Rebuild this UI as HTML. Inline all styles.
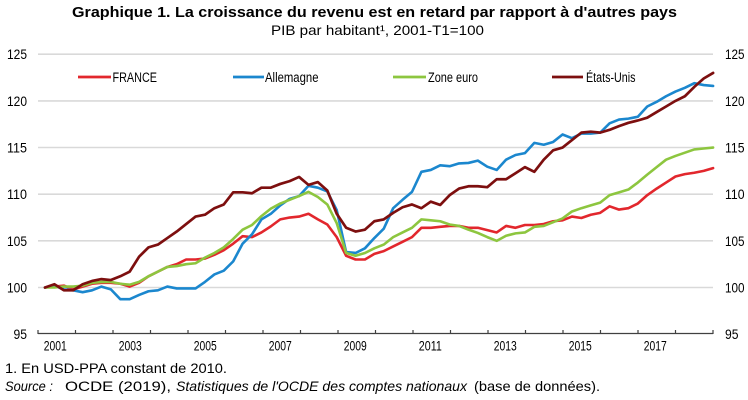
<!DOCTYPE html>
<html>
<head>
<meta charset="utf-8">
<style>
  html,body{margin:0;padding:0;background:#fff;}
  svg{display:block;}
  text{font-family:"Liberation Sans",Arial,sans-serif;fill:#000;}
  .n{font-family:"Liberation Sans Narrow","Liberation Sans",Arial,sans-serif;}
</style>
</head>
<body>
<svg width="748" height="400" viewBox="0 0 748 400" xmlns="http://www.w3.org/2000/svg">
  <rect width="748" height="400" fill="#fff"/>

  <!-- Title -->
  <text x="72" y="17" font-size="14.5" font-weight="bold" textLength="605" lengthAdjust="spacingAndGlyphs">Graphique 1. La croissance du revenu est en retard par rapport à d'autres pays</text>
  <text x="271" y="35" font-size="14" textLength="213" lengthAdjust="spacingAndGlyphs">PIB par habitant¹, 2001-T1=100</text>

  <!-- Gridlines -->
  <g stroke="#d9d9d9" stroke-width="1.6">
    <line x1="38" y1="54.2" x2="713" y2="54.2"/>
    <line x1="38" y1="100.9" x2="713" y2="100.9"/>
    <line x1="38" y1="147.5" x2="713" y2="147.5"/>
    <line x1="38" y1="194.2" x2="713" y2="194.2"/>
    <line x1="38" y1="240.8" x2="713" y2="240.8"/>
    <line x1="38" y1="287.5" x2="713" y2="287.5"/>
  </g>

  <!-- X axis -->
  <g stroke="#404040" stroke-width="1.2">
    <line x1="38" y1="333.5" x2="713" y2="333.5"/>
    <line x1="38" y1="330" x2="38" y2="334"/>
    <line x1="75.5" y1="330" x2="75.5" y2="334"/>
    <line x1="113" y1="330" x2="113" y2="334"/>
    <line x1="150.5" y1="330" x2="150.5" y2="334"/>
    <line x1="188" y1="330" x2="188" y2="334"/>
    <line x1="225.5" y1="330" x2="225.5" y2="334"/>
    <line x1="263" y1="330" x2="263" y2="334"/>
    <line x1="300.5" y1="330" x2="300.5" y2="334"/>
    <line x1="338" y1="330" x2="338" y2="334"/>
    <line x1="375.5" y1="330" x2="375.5" y2="334"/>
    <line x1="413" y1="330" x2="413" y2="334"/>
    <line x1="450.5" y1="330" x2="450.5" y2="334"/>
    <line x1="488" y1="330" x2="488" y2="334"/>
    <line x1="525.5" y1="330" x2="525.5" y2="334"/>
    <line x1="563" y1="330" x2="563" y2="334"/>
    <line x1="600.5" y1="330" x2="600.5" y2="334"/>
    <line x1="638" y1="330" x2="638" y2="334"/>
    <line x1="675.5" y1="330" x2="675.5" y2="334"/>
    <line x1="713" y1="330" x2="713" y2="334"/>
  </g>

  <!-- Y labels left -->
  <g font-size="14">
    <text class="n" x="7" y="59.2" textLength="20" lengthAdjust="spacingAndGlyphs">125</text>
    <text class="n" x="7" y="105.9" textLength="20" lengthAdjust="spacingAndGlyphs">120</text>
    <text class="n" x="7" y="152.5" textLength="20" lengthAdjust="spacingAndGlyphs">115</text>
    <text class="n" x="7" y="199.2" textLength="20" lengthAdjust="spacingAndGlyphs">110</text>
    <text class="n" x="7" y="245.8" textLength="20" lengthAdjust="spacingAndGlyphs">105</text>
    <text class="n" x="7" y="292.5" textLength="20" lengthAdjust="spacingAndGlyphs">100</text>
    <text class="n" x="13.5" y="339" textLength="13.5" lengthAdjust="spacingAndGlyphs">95</text>
  </g>
  <!-- Y labels right -->
  <g font-size="14">
    <text class="n" x="725" y="59.2" textLength="19.5" lengthAdjust="spacingAndGlyphs">125</text>
    <text class="n" x="725" y="105.9" textLength="19.5" lengthAdjust="spacingAndGlyphs">120</text>
    <text class="n" x="725" y="152.5" textLength="19.5" lengthAdjust="spacingAndGlyphs">115</text>
    <text class="n" x="725" y="199.2" textLength="19.5" lengthAdjust="spacingAndGlyphs">110</text>
    <text class="n" x="725" y="245.8" textLength="19.5" lengthAdjust="spacingAndGlyphs">105</text>
    <text class="n" x="725" y="292.5" textLength="19.5" lengthAdjust="spacingAndGlyphs">100</text>
    <text class="n" x="725" y="339" textLength="13.5" lengthAdjust="spacingAndGlyphs">95</text>
  </g>

  <!-- X labels -->
  <g font-size="14">
    <text class="n" x="43.8" y="350.5" textLength="23" lengthAdjust="spacingAndGlyphs">2001</text>
    <text class="n" x="118.8" y="350.5" textLength="23" lengthAdjust="spacingAndGlyphs">2003</text>
    <text class="n" x="193.8" y="350.5" textLength="23" lengthAdjust="spacingAndGlyphs">2005</text>
    <text class="n" x="268.8" y="350.5" textLength="23" lengthAdjust="spacingAndGlyphs">2007</text>
    <text class="n" x="343.8" y="350.5" textLength="23" lengthAdjust="spacingAndGlyphs">2009</text>
    <text class="n" x="418.8" y="350.5" textLength="23" lengthAdjust="spacingAndGlyphs">2011</text>
    <text class="n" x="493.8" y="350.5" textLength="23" lengthAdjust="spacingAndGlyphs">2013</text>
    <text class="n" x="568.8" y="350.5" textLength="23" lengthAdjust="spacingAndGlyphs">2015</text>
    <text class="n" x="643.8" y="350.5" textLength="23" lengthAdjust="spacingAndGlyphs">2017</text>
  </g>

  <!-- Legend -->
  <g stroke-width="2.8">
    <line x1="78" y1="77" x2="111" y2="77" stroke="#e2272d"/>
    <line x1="233" y1="77" x2="264" y2="77" stroke="#1b87ce"/>
    <line x1="393" y1="77" x2="426" y2="77" stroke="#8dc63f"/>
    <line x1="552" y1="77" x2="583" y2="77" stroke="#7d0f0f"/>
  </g>
  <g font-size="13.5">
    <text class="n" x="112.5" y="82" textLength="44.5" lengthAdjust="spacingAndGlyphs">FRANCE</text>
    <text class="n" x="265" y="82" textLength="53.5" lengthAdjust="spacingAndGlyphs">Allemagne</text>
    <text class="n" x="428" y="82" textLength="50" lengthAdjust="spacingAndGlyphs">Zone euro</text>
    <text class="n" x="586" y="82" textLength="49.5" lengthAdjust="spacingAndGlyphs">États-Unis</text>
  </g>

  <!-- Series -->
  <g transform="matrix(9.41 0 0 -9.33 45 1220.5)" fill="none" stroke-linejoin="round" stroke-linecap="round">
    <polyline vector-effect="non-scaling-stroke" stroke="#e2272d" stroke-width="2.6" points="0,100 1,100.1 2,100.2 3,99.8 4,100.1 5,100.4 6,100.5 7,100.5 8,100.4 9,100.1 10,100.5 11,101.2 12,101.7 13,102.2 14,102.5 15,103 16,103 17,103.1 18,103.5 19,104 20,104.7 21,105.5 22,105.4 23,105.9 24,106.55 25,107.3 26,107.5 27,107.6 28,107.9 29,107.3 30,106.75 31,105.4 32,103.4 33,103 34,103 35,103.6 36,103.9 37,104.4 38,104.9 39,105.4 40,106.4 41,106.4 42,106.5 43,106.6 44,106.6 45,106.4 46,106.4 47,106.15 48,105.9 49,106.6 50,106.4 51,106.7 52,106.7 53,106.8 54,107.1 55,107.2 56,107.6 57,107.45 58,107.8 59,108 60,108.7 61,108.35 62,108.5 63,109 64,109.9 65,110.6 66,111.25 67,111.9 68,112.15 69,112.3 70,112.5 71,112.8"/>
    <polyline vector-effect="non-scaling-stroke" stroke="#1b87ce" stroke-width="2.6" points="0,100 1,100.2 2,99.8 3,99.7 4,99.5 5,99.7 6,100.1 7,99.8 8,98.75 9,98.75 10,99.2 11,99.6 12,99.7 13,100.1 14,99.9 15,99.9 16,99.9 17,100.6 18,101.4 19,101.8 20,102.8 21,104.7 22,105.7 23,107.3 24,107.9 25,108.8 26,109.5 27,109.8 28,110.9 29,110.7 30,110.3 31,108.3 32,103.8 33,103.7 34,104.2 35,105.3 36,106.3 37,108.5 38,109.4 39,110.25 40,112.4 41,112.6 42,113.1 43,113 44,113.3 45,113.35 46,113.6 47,112.95 48,112.6 49,113.7 50,114.2 51,114.4 52,115.5 53,115.3 54,115.6 55,116.4 56,116 57,116.5 58,116.5 59,116.6 60,117.6 61,118 62,118.1 63,118.3 64,119.4 65,119.9 66,120.5 67,121 68,121.4 69,121.9 70,121.7 71,121.6"/>
    <polyline vector-effect="non-scaling-stroke" stroke="#8dc63f" stroke-width="2.6" points="0,100 1,100 2,100.1 3,100.1 4,100.2 5,100.5 6,100.6 7,100.6 8,100.4 9,100.3 10,100.6 11,101.2 12,101.7 13,102.2 14,102.3 15,102.5 16,102.6 17,103.2 18,103.7 19,104.3 20,105.2 21,106.2 22,106.7 23,107.65 24,108.45 25,109 26,109.4 27,109.8 28,110.25 29,109.7 30,108.9 31,106.9 32,103.7 33,103.4 34,103.7 35,104.2 36,104.6 37,105.4 38,105.9 39,106.4 40,107.3 41,107.2 42,107.1 43,106.75 44,106.6 45,106.2 46,105.85 47,105.4 48,105 49,105.55 50,105.8 51,105.9 52,106.5 53,106.6 54,107 55,107.4 56,108.15 57,108.5 58,108.8 59,109.1 60,109.9 61,110.2 62,110.5 63,111.25 64,112.1 65,112.9 66,113.7 67,114.1 68,114.45 69,114.8 70,114.9 71,115"/>
    <polyline vector-effect="non-scaling-stroke" stroke="#7d0f0f" stroke-width="2.7" points="0,100 1,100.35 2,99.7 3,99.7 4,100.35 5,100.7 6,100.9 7,100.8 8,101.2 9,101.7 10,103.3 11,104.3 12,104.6 13,105.3 14,106 15,106.8 16,107.6 17,107.8 18,108.5 19,108.9 20,110.2 21,110.2 22,110.1 23,110.7 24,110.7 25,111.1 26,111.4 27,111.85 28,111 29,111.3 30,110.4 31,107.9 32,106.4 33,106 34,106.2 35,107.1 36,107.3 37,108 38,108.6 39,108.9 40,108.5 41,109.2 42,108.85 43,109.9 44,110.6 45,110.85 46,110.85 47,110.75 48,111.6 49,111.6 50,112.25 51,112.9 52,112.4 53,113.7 54,114.7 55,115 56,115.8 57,116.6 58,116.7 59,116.6 60,116.9 61,117.3 62,117.65 63,117.9 64,118.2 65,118.8 66,119.4 67,120 68,120.5 69,121.5 70,122.4 71,123"/>
  </g>

  <!-- Footnotes -->
  <text x="5" y="373" font-size="14" textLength="222" lengthAdjust="spacingAndGlyphs">1. En USD-PPA constant de 2010.</text>
  <text x="5" y="391" font-size="14" font-style="italic" textLength="48" lengthAdjust="spacingAndGlyphs">Source :</text>
  <text x="65" y="391" font-size="14" textLength="106" lengthAdjust="spacingAndGlyphs">OCDE (2019),</text>
  <text x="176" y="391" font-size="14" font-style="italic" textLength="291" lengthAdjust="spacingAndGlyphs">Statistiques de l'OCDE des comptes nationaux</text>
  <text x="474" y="391" font-size="14" textLength="126" lengthAdjust="spacingAndGlyphs">(base de données).</text>
</svg>
</body>
</html>
